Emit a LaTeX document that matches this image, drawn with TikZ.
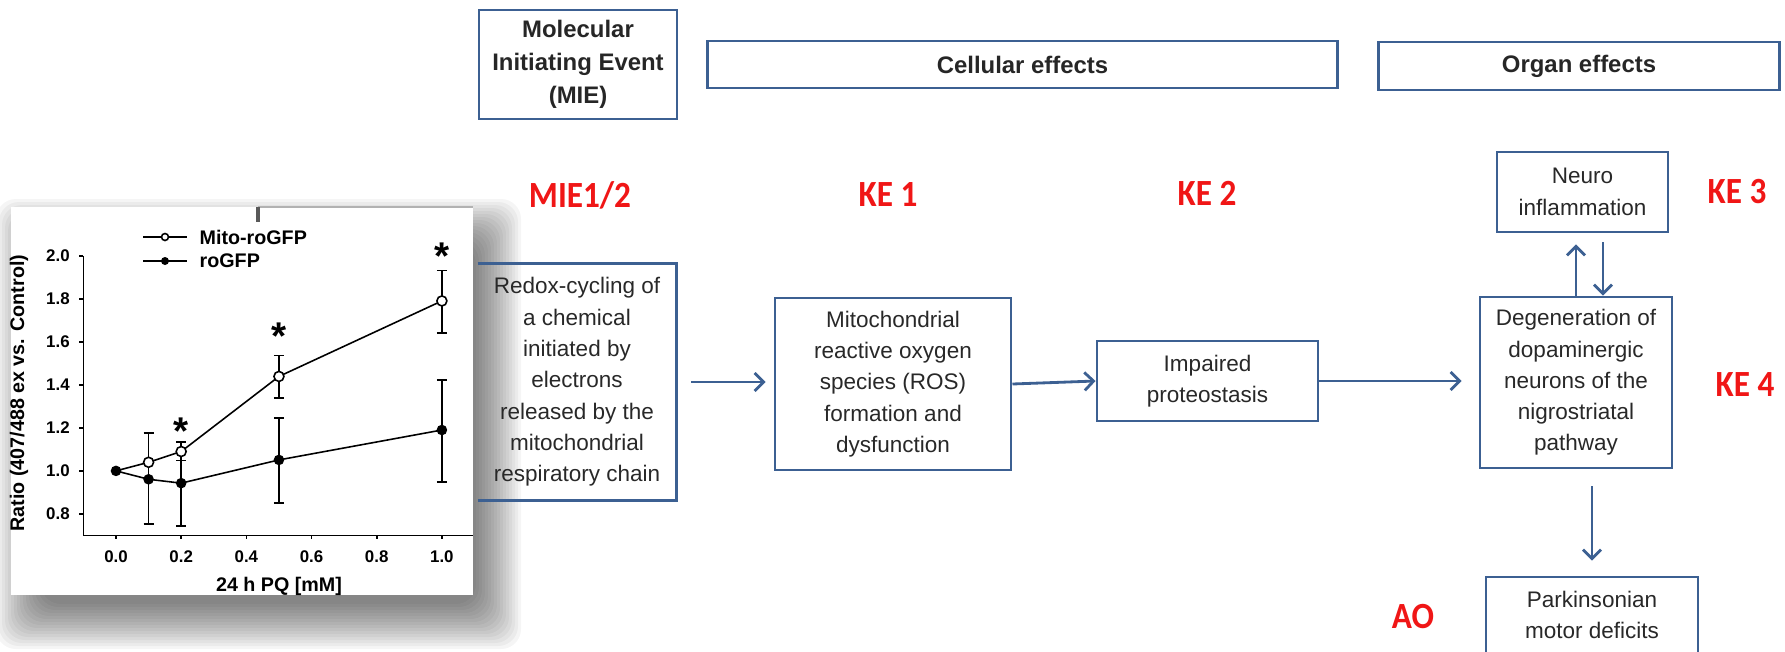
\documentclass[tikz,border=0pt]{standalone}
\usepackage{fontspec}
\setmainfont{Liberation Sans}
\newfontfamily\kefont{Carlito}[FakeStretch=0.9]
\usetikzlibrary{arrows.meta}
\usetikzlibrary{positioning}
\definecolor{aopblue}{RGB}{60,96,146}
\definecolor{boxtext}{RGB}{40,40,40}
\definecolor{kered}{RGB}{240,22,22}
\tikzset{
	aopbox/.style={draw=aopblue, line width=0.8pt, align=center, inner sep=0pt, text=boxtext, font=\fontsize{6.4}{8.9}\selectfont},
	headbox/.style={aopbox, text=black!85, font=\bfseries\fontsize{6.8}{9.3}\selectfont},
	kelabel/.style={text=kered, inner sep=0pt, font=\kefont\bfseries\fontsize{10.5}{13}\selectfont},
	flow/.style={-{Straight Barb[length=0.09cm,width=0.18cm]}, draw=aopblue, line width=0.8pt},
	plotline/.style={black, line width=0.45pt},
	ticklab/.style={inner sep=0pt, font=\bfseries\fontsize{4.8}{5}\selectfont},
	axtitle/.style={inner sep=0pt, font=\bfseries\fontsize{5.6}{6}\selectfont},
	signif/.style={inner sep=0pt, anchor=north, font=\bfseries\fontsize{11}{11}\selectfont}
}

\begin{document}
\begin{tikzpicture}[x=0.01cm, y=-0.01cm] % one unit = one pixel of the reference
	\useasboundingbox (0,0) rectangle (1785,651);
	\clip (0,0) rectangle (1785,651);
	
	% soft shadow under the plot panel
	\foreach \i in {0,...,15}
	\fill[black, opacity=0.04, rounded corners=0.2cm] (41-3*\i,244-3*\i) rectangle (476+3*\i,604+3*\i);
	\fill[white] (11,207) rectangle (473,595);
	\draw[gray!60, line width=0.4pt] (258,207) -- (473,207);
	\draw[gray!70!black, line width=1.2pt] (258,207) -- (258,222);
	
	% the plot, in data coordinates
	\begin{scope}[shift={(116,686)}, x=3.257cm, y=2.15cm]
		\draw[plotline] (-0.1,2.0) -- (-0.1,0.7) -- (1.096,0.7);
		\foreach \r in {0.8,1.0,1.2,1.4,1.6,1.8,2.0} {
			\draw[plotline] (-0.1,\r) -- ++(-0.04cm,0);
			\node[ticklab, anchor=east] at ([xshift=-0.13cm]-0.1,\r) {\r};
		}
		\foreach \v in {0.0,0.2,0.4,0.6,0.8,1.0} {
			\draw[plotline] (\v,0.7) -- ++(0,-0.04cm);
			\node[ticklab] at ([yshift=-0.215cm]\v,0.7) {\v};
		}
		
		% error bars
		\foreach \v/\lo/\hi in {0.1/0.752/1.175, 0.2/0.744/1.133, 0.5/1.338/1.536, 0.5/0.850/1.245, 1.0/1.640/1.932, 1.0/0.947/1.423} {
			\draw[plotline] (\v,\lo) -- (\v,\hi);
			\draw[plotline] ([xshift=-0.05cm]\v,\lo) -- ([xshift=0.05cm]\v,\lo);
			\draw[plotline] ([xshift=-0.05cm]\v,\hi) -- ([xshift=0.05cm]\v,\hi);
		}
		\draw[plotline] ([xshift=-0.05cm]0.2,1.048) -- ([xshift=0.05cm]0.2,1.048);
		
		% Mito-roGFP and roGFP
		\draw[plotline] (0,1.0) -- (0.1,1.04) -- (0.2,1.09) -- (0.5,1.439) -- (1.0,1.79);
		\draw[plotline] (0,1.0) -- (0.1,0.961) -- (0.2,0.943) -- (0.5,1.051) -- (1.0,1.19);
		\foreach \v/\r in {0.1/0.961, 0.2/0.943, 0.5/1.051, 1.0/1.19, 0/1.0}
		\fill (\v,\r) circle[radius=0.053cm];
		\foreach \v/\r in {0.1/1.04, 0.2/1.09, 0.5/1.439, 1.0/1.79}
		\draw[plotline, fill=white] (\v,\r) circle[radius=0.05cm];
		
		\node[signif] (starA) at ([yshift=0.06cm]0.2,1.223) {*};
		\node[signif] (starB) at ([yshift=0.06cm]0.5,1.665) {*};
		\node[signif] (starC) at ([yshift=0.06cm]1.0,2.033) {*};
	\end{scope}
	
	% legend and axis titles
	\draw[plotline] (143,237) -- (187,237);
	\draw[plotline, fill=white] (165,237) circle[radius=0.035cm];
	\node[axtitle, anchor=west] (legA) at (199,237) {Mito-roGFP};
	\draw[plotline] (143,261) -- (187,261);
	\fill (165,261) circle[radius=0.04cm];
	\node[axtitle, anchor=west] (legB) at (199,261) {roGFP};
	\node[axtitle] (xtitle) at (279,586) {24 h PQ [mM]};
	\node[axtitle, rotate=90] (ytitle) at (19,393) {Ratio (407/488 ex vs. Control)};
	
	% header boxes
	\node[headbox, minimum width=1.98cm, minimum height=1.09cm] (mie) at (578,64.5) {Molecular\\Initiating Event\\(MIE)};
	\node[headbox, minimum width=6.29cm, minimum height=0.47cm] (cell) at (1022.5,64.5) {Cellular effects};
	\node[headbox, minimum width=4.0cm, minimum height=0.48cm] (organ) at (1579,66) {Organ effects};
	
	% event labels
	\node[kelabel] (mielab) at (580,195) {MIE1/2};
	\node[kelabel] (keA) at (888,195) {KE 1};
	\node[kelabel] (keB) at (1207,193) {KE 2};
	\node[kelabel] (keC) at (1737,192) {KE 3};
	\node[kelabel] (keD) at (1745,385) {KE 4};
	\node[kelabel] (ao) at (1413,617) {AO};
	
	% pathway boxes
	\node[aopbox, draw=none, minimum width=1.96cm, minimum height=2.34cm] (redox) at (577,382) {Redox-cycling of\\a chemical\\initiated by\\electrons\\released by the\\mitochondrial\\respiratory chain};
	\draw[aopblue, line width=0.8pt] (redox.north west) -- (redox.north east) -- (redox.south east) -- (redox.south west);
	\node[aopbox, minimum width=2.36cm, minimum height=1.72cm] (mito) at (893,384) {Mitochondrial\\reactive oxygen\\species (ROS)\\formation and\\dysfunction};
	\node[aopbox, minimum width=2.21cm, minimum height=0.80cm] (prot) at (1207.5,381) {Impaired\\proteostasis};
	\node[aopbox, minimum width=1.92cm, minimum height=1.71cm] (degen) at (1576,382.5) {Degeneration of\\dopaminergic\\neurons of the\\nigrostriatal\\pathway};
	\node[aopbox, minimum width=1.71cm, minimum height=0.80cm] (neuro) at (1582.5,192) {Neuro\\inflammation};
	\node[aopbox, minimum width=2.12cm, minimum height=0.76cm] (parkin) at (1592,615) {Parkinsonian\\motor deficits};
	
	% arrows
	\draw[flow, shorten <=0.15cm, shorten >=0.08cm] (redox.east) -- (redox.east -| mito.west);
	\draw[flow] (mito.east) -- (prot.west);
	\draw[flow, shorten >=0.17cm] (prot.east) -- (prot.east -| degen.west);
	\draw[flow, shorten >=0.11cm] (degen.north) -- (degen.north |- neuro.south);
	\coordinate (back) at ([xshift=0.205cm]neuro.south);
	\draw[flow, shorten <=0.09cm] (back) -- (back |- degen.north);
	\draw[flow, shorten <=0.17cm, shorten >=0.15cm] (parkin.north |- degen.south) -- (parkin.north);
\end{tikzpicture}
\end{document}
